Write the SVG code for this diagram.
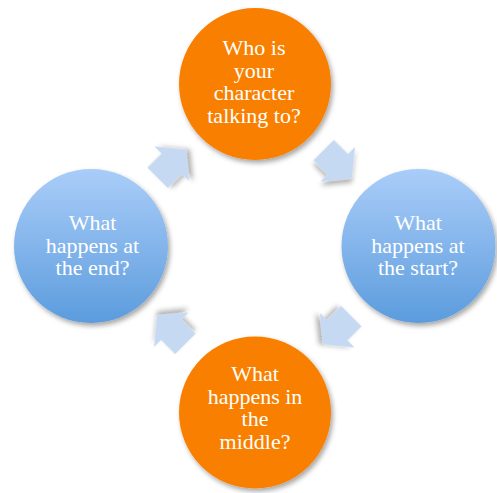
<svg xmlns="http://www.w3.org/2000/svg" width="497" height="493" viewBox="0 0 497 493">
  <defs>
    <linearGradient id="blueGrad" x1="0" y1="0" x2="0" y2="1">
      <stop offset="0" stop-color="#AACDF9"/>
      <stop offset="1" stop-color="#5C9CDD"/>
    </linearGradient>
    <filter id="shadow" x="-20%" y="-20%" width="150%" height="150%">
      <feDropShadow dx="2" dy="3" stdDeviation="2.5" flood-color="#000" flood-opacity="0.35"/>
    </filter>
    <filter id="ashadow" x="-30%" y="-30%" width="170%" height="170%">
      <feDropShadow dx="3" dy="3" stdDeviation="2.5" flood-color="#000" flood-opacity="0.3"/>
    </filter>
    <polygon id="arrow" points="-20,-14.5 0,-14.5 0,-24.5 20,0 0,24.5 0,14.5 -20,14.5"/>
  </defs>
  <style>
    .orange { fill: #F97F03; filter: url(#shadow); }
    .blue { fill: url(#blueGrad); filter: url(#shadow); }
    .arr { fill: #C6D9F3; filter: url(#ashadow); }
    text { font-family: "Liberation Serif", "Times New Roman", serif; font-size: 22px; fill: #FFFFFF; text-anchor: middle; }
  </style>
  <g id="connectors">
    <use href="#arrow" class="arr" transform="translate(171.75,163.75) rotate(-45)"/>
    <use href="#arrow" class="arr" transform="translate(337.75,164.25) rotate(45)"/>
    <use href="#arrow" class="arr" transform="translate(337.25,330.25) rotate(135)"/>
    <use href="#arrow" class="arr" transform="translate(171.25,329.75) rotate(225)"/>
  </g>
  <g id="node-top">
    <circle class="orange" cx="255" cy="84" r="76"/>
    <text x="254" y="55">Who is</text>
    <text x="254" y="77.5">your</text>
    <text x="254" y="100">character</text>
    <text x="254" y="122.5">talking to?</text>
  </g>
  <g id="node-right">
    <circle class="blue" cx="418.5" cy="246" r="77"/>
    <text x="418" y="230">What</text>
    <text x="418" y="252.5">happens at</text>
    <text x="418" y="275">the start?</text>
  </g>
  <g id="node-bottom">
    <circle class="orange" cx="255" cy="412.5" r="76"/>
    <text x="255" y="381">What</text>
    <text x="255" y="403.5">happens in</text>
    <text x="255" y="426">the</text>
    <text x="255" y="448.5">middle?</text>
  </g>
  <g id="node-left">
    <circle class="blue" cx="91" cy="246" r="77"/>
    <text x="92.5" y="230">What</text>
    <text x="92.5" y="252.5">happens at</text>
    <text x="92.5" y="275">the end?</text>
  </g>
</svg>
